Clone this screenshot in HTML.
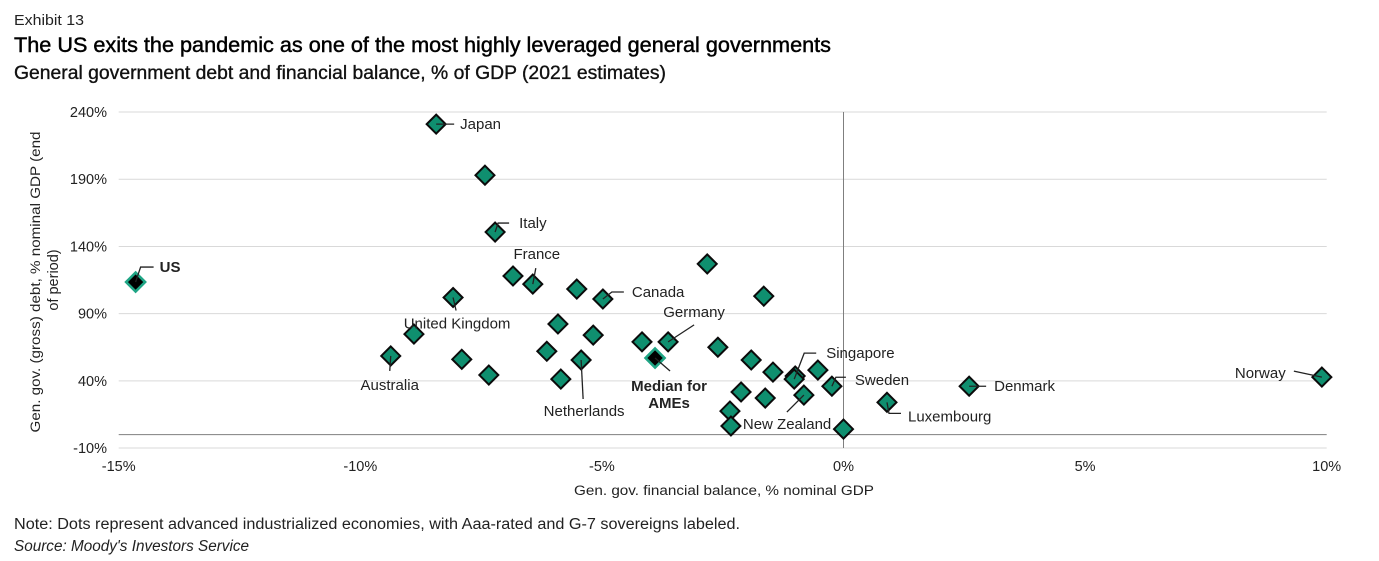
<!DOCTYPE html>
<html lang="en">
<head>
<meta charset="utf-8">
<title>Exhibit 13</title>
<style>
html,body{margin:0;padding:0;background:#fff;width:1379px;height:561px;overflow:hidden}
svg{display:block}
text{font-family:"Liberation Sans",Arial,sans-serif;fill:#222}
</style>
</head>
<body>
<svg id="chart" width="1379" height="561" viewBox="0 0 1379 561" xmlns="http://www.w3.org/2000/svg">
<text x="14" y="25" font-size="15" textLength="70" lengthAdjust="spacingAndGlyphs">Exhibit 13</text>
<text x="14" y="52" font-size="21" style="fill:#000;stroke:#000;stroke-width:.45" textLength="817" lengthAdjust="spacingAndGlyphs">The US exits the pandemic as one of the most highly leveraged general governments</text>
<text x="14" y="79" font-size="19" style="fill:#111;stroke:#111;stroke-width:.35" textLength="652" lengthAdjust="spacingAndGlyphs">General government debt and financial balance, % of GDP (2021 estimates)</text>
<g id="grid"></g>
<g id="axes"></g>
<text x="724" y="495" font-size="13.5" text-anchor="middle" textLength="300" lengthAdjust="spacingAndGlyphs">Gen. gov. financial balance, % nominal GDP</text>
<text transform="translate(40,282) rotate(-90)" font-size="13.5" text-anchor="middle" textLength="301" lengthAdjust="spacingAndGlyphs">Gen. gov. (gross) debt, % nominal GDP (end</text>
<text transform="translate(58,280) rotate(-90)" font-size="14.5" text-anchor="middle">of period)</text>
<g id="leaders"></g>
<g id="points"></g>
<g id="labels"></g>
<text x="14" y="529" font-size="15.5" style="fill:#222" textLength="726" lengthAdjust="spacingAndGlyphs">Note: Dots represent advanced industrialized economies, with Aaa-rated and G-7 sovereigns labeled.</text>
<text x="14" y="551" font-size="15.5" font-style="italic" style="fill:#222" textLength="235" lengthAdjust="spacingAndGlyphs">Source: Moody's Investors Service</text>
</svg>
<script>
const xTicks = [-15, -10, -5, 0, 5, 10];
const yTicks = [-10, 40, 90, 140, 190, 240];
const countries = ["Japan","","Italy","","France","","Canada","","","United Kingdom","","Australia","","","","","","Netherlands","","","Germany","Median for AMEs","","","","","Singapore","","Sweden","New Zealand","","","","","","Luxembourg","Denmark","Norway","US"];
const balance = [-8.43,-7.42,-7.21,-6.84,-6.43,-5.52,-4.98,-2.82,-1.65,-8.08,-8.89,-9.37,-7.9,-7.34,-5.91,-5.18,-6.14,-5.43,-5.85,-4.17,-3.63,-3.9,-2.6,-1.91,-1.46,-1.0,-1.02,-0.53,-0.24,-0.82,-2.12,-1.62,-2.35,-2.33,0.0,0.9,2.6,9.9,-14.65];
const debt = [231,193,150.7,118,112,108.3,100.9,127,103,102,74.8,58.5,56,44.3,82.3,74,62,55.5,41.3,69,69,57,65,55.5,46.5,43.6,41.3,48,36,29.4,31.7,27.2,17.5,6.4,4.1,24,36,42.8,113.5];

const NS = "http://www.w3.org/2000/svg";
const X = v => 843.5 + v * 48.32;
const Y = v => 434.6 - v * 1.344;
const fmt = v => v + "%";
function mk(parent, tag, attrs, txt) {
  const el = document.createElementNS(NS, tag);
  for (const k in attrs) el.setAttribute(k, attrs[k]);
  if (txt !== undefined) el.textContent = txt;
  parent.appendChild(el);
  return el;
}
const grid = document.getElementById("grid");
const axes = document.getElementById("axes");
const leaders = document.getElementById("leaders");
const points = document.getElementById("points");
const labels = document.getElementById("labels");

yTicks.forEach(t => {
  const line = mk(grid, "line", {x1: X(-15), x2: X(10), y1: Y(t), y2: Y(t), stroke: "#d9d9d9", "stroke-width": 1});
  
  
  const lab = mk(axes, "text", {x: 107, y: Y(t) + 5, "font-size": 14.5, "text-anchor": "end"}, fmt(t));
  
  
});
xTicks.forEach(t => {
  const lab = mk(axes, "text", {x: X(t), y: 471, "font-size": 14.5, "text-anchor": "middle"}, fmt(t));
  
  
});
const zeroH = mk(axes, "line", {x1: X(-15), x2: X(10), y1: Y(0), y2: Y(0), stroke: "#7f7f7f", "stroke-width": 1});


const zeroV = mk(axes, "line", {x1: X(0), x2: X(0), y1: Y(240), y2: Y(-10), stroke: "#7f7f7f", "stroke-width": 1});



/* Label placement relative to each point: text offset, anchor, leader path offsets */
const layout = {
  "Japan": {dx: 24, dy: 5, a: "start", l: [[0,0],[18,0]]},
  "Italy": {dx: 24, dy: -4, a: "start", l: [[0,0],[3,-9],[14,-9]]},
  "France": {dx: 4, dy: -25, a: "middle", l: [[0,0],[3,-16]]},
  "Canada": {dx: 29, dy: -2, a: "start", l: [[0,0],[9,-7],[21,-7]]},
  "United Kingdom": {dx: 4, dy: 31, a: "middle", l: [[0,0],[3,13]]},
  "Australia": {dx: -1, dy: 34, a: "middle", l: [[0,0],[-1,15]]},
  "Netherlands": {dx: 3, dy: 56, a: "middle", l: [[0,0],[2,39]]},
  "Germany": {dx: 26, dy: -25, a: "middle", l: [[0,0],[26,-17]]},
  "Median for AMEs": {dx: 14, dy: 33, a: "middle", l: [[0,0],[15,13]], bold: true, lines: ["Median for","AMEs"]},
  "Singapore": {dx: 32, dy: -21, a: "start", l: [[0,0],[10,-26],[22,-26]]},
  "Sweden": {dx: 23, dy: -1, a: "start", l: [[0,0],[4,-9],[14,-9]]},
  "New Zealand": {dx: -61, dy: 34, a: "start", l: [[0,0],[-17,17]]},
  "Luxembourg": {dx: 21, dy: 19, a: "start", l: [[0,0],[2,11],[14,11]]},
  "Denmark": {dx: 25, dy: 5, a: "start", l: [[0,0],[17,0]]},
  "Norway": {dx: -87, dy: 1, a: "start", l: [[0,0],[-28,-6]]},
  "US": {dx: 24, dy: -10, a: "start", l: [[0,0],[5,-15],[18,-15]], bold: true}
};

balance.forEach((b, i) => {
  const px = X(b), py = Y(debt[i]), name = countries[i];
  const hi = name === "US" || name === "Median for AMEs";
  const r = hi ? 9.5 : 9.5;
  const d = mk(points, "polygon", {
    points: [[px, py - r], [px + r, py], [px, py + r], [px - r, py]].map(p => p.join(",")).join(" "),
    fill: hi ? "#000" : "#0f8f6f",
    stroke: hi ? "#1fa585" : "#0b0b0b",
    "stroke-width": hi ? 2.6 : 2,
    "stroke-linejoin": "miter"
  });
  
  
  const cfg = layout[name];
  if (!cfg) return;
  const lead = mk(leaders, "polyline", {
    points: cfg.l.map(o => (px + o[0]) + "," + (py + o[1])).join(" "),
    fill: "none", stroke: "#222", "stroke-width": 1.3
  });
  
  
  (cfg.lines || [name]).forEach((s, j) => {
    const t = mk(labels, "text", {
      x: px + cfg.dx, y: py + cfg.dy + j * 17,
      "font-size": 15, "text-anchor": cfg.a,
      "font-weight": cfg.bold ? "bold" : "normal"
    }, s);
    
    
  });
});
/* leaders should sit on top of markers, as in the source */
points.parentNode.insertBefore(leaders, labels);
</script>
</body>
</html>
